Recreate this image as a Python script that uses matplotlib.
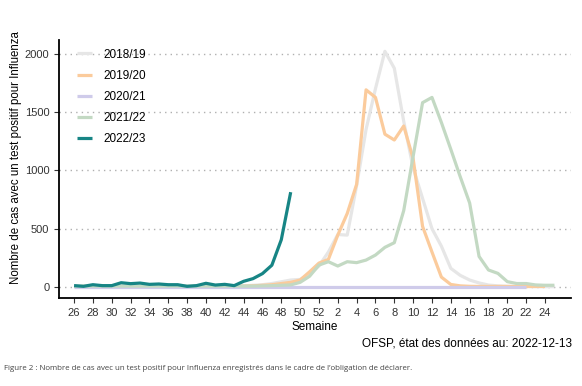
import numpy as np
import matplotlib
matplotlib.use("Agg")
import matplotlib.pyplot as plt

plt.rcParams['font.family'] = ['Liberation Sans', 'DejaVu Sans']

# Weeks from 26 to 52, then 1 to 25
weeks = list(range(26, 53)) + list(range(1, 26))
nan = np.nan

s1819 = [5] * 18 + [10, 15, 20, 30, 45, 60, 65, 110, 180,
                    300, 450, 445, 870, 1350, 1700, 2020, 1875, 1420, 1020,
                    760, 500, 350, 160, 100, 60, 35, 17, 10, 6, 5, 4, 3, 3, 3]
s1920 = [5] * 18 + [8, 10, 15, 20, 30, 40, 60, 130, 205,
                    237, 445, 630, 880, 1690, 1625, 1310, 1260, 1380, 1100,
                    520, 300, 85, 22, 10, 6, 5, 5, 5, 5, 5, 5, 5, 5, nan]
s2021 = [3] * 27 + [3] * 22 + [nan, nan, nan]
s2122 = [8] * 18 + [8, 8, 10, 12, 15, 18, 40, 92, 188,
                    217, 180, 217, 209, 231, 274, 340, 380, 655, 1120,
                    1580, 1625, 1410, 1180, 945, 720, 262, 146, 117, 46,
                    30, 30, 18, 15, 15]
s2223 = [12, 6, 20, 12, 12, 37, 29, 34, 23, 26, 20, 20, 6, 12, 32, 17, 23,
         12, 49, 72, 115, 187, 405, 813] + [nan] * 28

series = ["2018/19", "2019/20", "2020/21", "2021/22", "2022/23"]
values = [s1819, s1920, s2021, s2122, s2223]
colors = ["#e6e6e6", "#fbcb9c", "#cfcbea", "#c3d9c3", "#178585"]

x = np.arange(len(weeks))

fig = plt.figure(figsize=(5.82, 3.86), dpi=100)
ax = fig.add_axes([59 / 582, 1 - 298 / 386, (571 - 59) / 582, (298 - 40) / 386])

for name, vals, col in zip(series, values, colors):
    ax.plot(x, vals, color=col, lw=2.3, label=name, solid_capstyle='butt')

ax.set_xlim(-1.6, 52.76)
ax.set_ylim(-94, 2117)
ax.set_yticks([0, 500, 1000, 1500, 2000])
ax.set_xticks(x[::2])
ax.set_xticklabels([str(w) for w in weeks[::2]])
ax.tick_params(labelsize=8, colors="#333333", length=3.5, width=0.8)
ax.yaxis.grid(True, linestyle=(0, (1, 3)), color="#b0b0b0", lw=1)
ax.set_axisbelow(True)
for sp in ["top", "right"]:
    ax.spines[sp].set_visible(False)
for sp in ["left", "bottom"]:
    ax.spines[sp].set_linewidth(1.3)

ax.set_xlabel("Semaine", fontsize=8.5, labelpad=2)
ax.set_ylabel("Nombre de cas avec un test positif pour Influenza", fontsize=8.3)
ax.yaxis.set_label_coords(-0.072, 0.545)

ax.legend(loc="upper left", bbox_to_anchor=(0.014, 1.008), frameon=False, fontsize=8.5,
          handlelength=1.3, handletextpad=0.95, labelspacing=0.78, borderaxespad=0.5)

fig.text(572 / 582, 1 - 343 / 386, "OFSP, état des données au: 2022-12-13",
         ha="right", va="center", fontsize=8.5)
fig.text(4 / 582, 1 - 368 / 386,
         "Figure 2 : Nombre de cas avec un test positif pour Influenza enregistrés dans le cadre de l\u2019obligation de déclarer.",
         ha="left", va="center", fontsize=5.65, color="#444444", family=["Open Sans", "DejaVu Sans"])

fig.savefig("out.png", dpi=100)
